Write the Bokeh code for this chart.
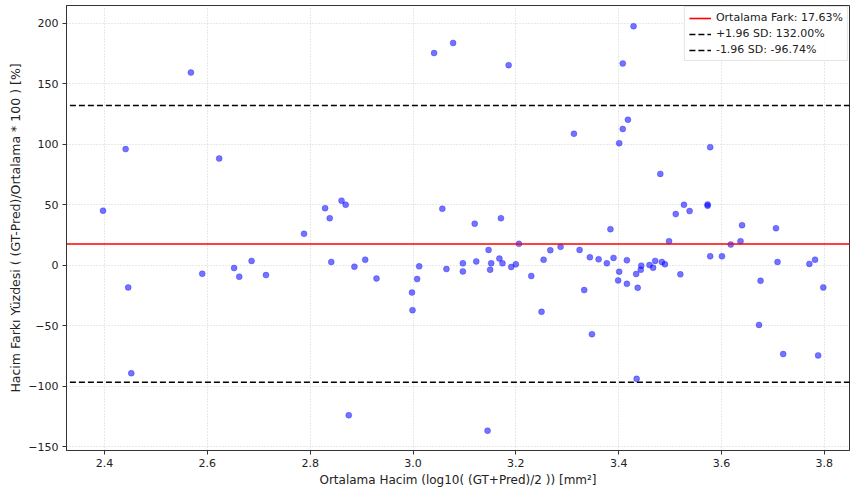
from bokeh.plotting import figure
from bokeh.models import Range1d, FixedTicker, CustomJSTickFormatter, Legend, LegendItem
from bokeh.embed import file_html
from bokeh.resources import INLINE

# ---- data ----
mean_vol = [2.397, 2.441, 2.568, 2.623, 2.788, 2.829, 2.838, 2.861, 2.869, 3.041,
            3.078, 3.057, 3.186, 3.429, 3.408, 3.418, 3.408, 3.401, 3.313, 3.578,
            3.481, 3.527, 3.511, 3.538, 3.573, 3.573, 3.640, 3.706, 3.384, 3.120,
            3.171, 3.206, 3.498, 3.618, 3.637, 3.147, 3.267, 3.287, 3.324,
            2.446, 2.452, 2.590, 2.652, 2.662, 2.686, 2.714, 2.841, 2.875, 2.886,
            2.907, 2.929, 2.998, 2.999, 3.008, 3.012, 3.065, 3.097, 3.097, 3.123,
            3.152, 3.150, 3.168, 3.174, 3.191, 3.200, 3.145, 3.230, 3.250, 3.254,
            3.333, 3.344, 3.348, 3.361, 3.377, 3.390, 3.401, 3.399, 3.416, 3.416,
            3.434, 3.437, 3.435, 3.443, 3.444, 3.460, 3.467, 3.471, 3.484, 3.490,
            3.520, 3.578, 3.601, 3.676, 3.673, 3.709, 3.720, 3.771, 3.782, 3.788,
            3.798]
pct_diff = [45.1, 96.0, 159.3, 88.2, 26.0, 47.2, 38.9, 53.4, 50.0, 175.4,
            183.7, 46.7, 165.4, 197.5, 166.8, 120.3, 112.6, 100.9, 108.7, 97.6,
            75.5, 50.0, 42.3, 44.8, 50.3, 49.2, 33.1, 30.6, 29.8, 34.3,
            38.9, 17.7, 19.9, 17.1, 19.9, 12.7, 12.4, 15.2, 12.7,
            -18.3, -89.2, -7.0, -2.3, -9.5, 3.6, -8.1, 2.7, -124.0, -1.2,
            4.6, -10.9, -22.5, -37.1, -11.4, -0.9, -3.1, 1.6, -5.1, 3.2,
            1.6, -3.7, 5.5, 1.6, -1.4, 0.8, -136.7, -8.9, -38.5, 4.6,
            -20.5, 6.6, -57.0, 4.9, 1.6, 6.1, -5.3, -12.5, 4.1, -15.3,
            -7.2, -18.6, -93.9, -3.7, -0.3, 0.2, -2.0, 3.6, 2.7, 0.8,
            -7.5, 7.4, 7.4, -12.8, -49.3, 2.7, -73.4, 1.1, 4.6, -74.5,
            -18.3]
mean_diff = 17.63
upper_loa = 132.00
lower_loa = -96.74
x_ticks = [2.4, 2.6, 2.8, 3.0, 3.2, 3.4, 3.6, 3.8]
y_ticks = [-150, -100, -50, 0, 50, 100, 150, 200]

FONT = "DejaVu Sans"

p = figure(width=850, height=489, output_backend="svg", toolbar_location=None,
           x_range=Range1d(2.326, 3.849), y_range=Range1d(-153.1, 214.7),
           min_border_top=5, min_border_right=1, min_border_left=66, min_border_bottom=0)

p.background_fill_color = "white"
p.border_fill_color = "white"
p.outline_line_color = "#333333"
p.outline_line_width = 1

# grid
for g in (p.xgrid, p.ygrid):
    g.grid_line_color = "#b0b0b0"
    g.grid_line_alpha = 0.7
    g.grid_line_dash = "1 2"
    g.grid_line_width = 0.8
p.xgrid.ticker = FixedTicker(ticks=x_ticks)
p.ygrid.ticker = FixedTicker(ticks=y_ticks)

# axes
p.xaxis.ticker = FixedTicker(ticks=x_ticks)
p.yaxis.ticker = FixedTicker(ticks=y_ticks)
p.xaxis.formatter = CustomJSTickFormatter(code="return tick.toFixed(1);")
p.yaxis.formatter = CustomJSTickFormatter(
    code="return tick < 0 ? '\u2212' + Math.abs(tick).toFixed(0) : tick.toFixed(0);")
for ax in (p.xaxis, p.yaxis):
    ax.axis_line_color = "#333333"
    ax.major_tick_line_color = "#333333"
    ax.major_tick_out = 4
    ax.major_tick_in = 0
    ax.minor_tick_line_color = None
    ax.major_label_text_font = FONT
    ax.major_label_text_font_size = "11px"
    ax.major_label_text_color = "#222222"
    ax.major_label_standoff = 4
    ax.axis_label_text_font = FONT
    ax.axis_label_text_font_style = "normal"
    ax.axis_label_text_color = "#222222"
p.xaxis.axis_label_text_font_size = "12px"
p.yaxis.axis_label_text_font_size = "12.5px"
p.xaxis.axis_label = "Ortalama Hacim (log10( (GT+Pred)/2 )) [mm²]"
p.yaxis.axis_label = "Hacim Farkı Yüzdesi ( (GT-Pred)/Ortalama * 100 ) [%]"
p.xaxis.axis_label_standoff = 3
p.yaxis.axis_label_standoff = 2

# points
p.scatter(mean_vol, pct_diff, size=6, fill_color="blue", line_color="blue",
          fill_alpha=0.55, line_alpha=0.35, line_width=0.8)

# reference lines
xs = [2.0, 4.2]
r_mean = p.line(xs, [mean_diff, mean_diff], line_color="red", line_width=1.6)
r_up = p.line(xs, [upper_loa, upper_loa], line_color="black", line_width=1.6, line_dash="6 3")
r_lo = p.line(xs, [lower_loa, lower_loa], line_color="black", line_width=1.6, line_dash="6 3")

legend = Legend(items=[
    LegendItem(label=f"Ortalama Fark: {mean_diff:.2f}%", renderers=[r_mean]),
    LegendItem(label=f"+1.96 SD: {upper_loa:.2f}%", renderers=[r_up]),
    LegendItem(label=f"-1.96 SD: {lower_loa:.2f}%", renderers=[r_lo]),
], location="top_right")
legend.label_text_font = FONT
legend.label_text_font_size = "11px"
legend.label_text_color = "#222222"
legend.glyph_width = 22
legend.glyph_height = 12
legend.label_height = 12
legend.spacing = 3
legend.padding = 4
legend.margin = 1
legend.border_line_color = "#cccccc"
legend.background_fill_alpha = 0.8
p.add_layout(legend)

open("out.html", "w").write(file_html(p, INLINE))
